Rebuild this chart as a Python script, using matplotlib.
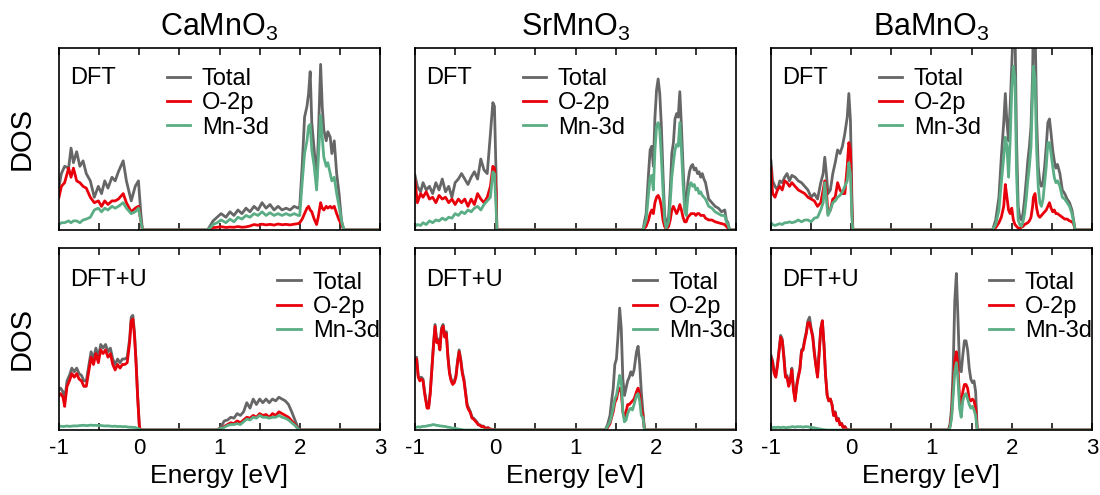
import numpy as np
import matplotlib
matplotlib.use("Agg")
from matplotlib import pyplot as plt
from matplotlib.ticker import MultipleLocator

plt.rcParams['font.family'] = ['Liberation Sans', 'DejaVu Sans']
plt.rcParams['axes.unicode_minus'] = False
plt.rcParams['mathtext.fontset'] = 'custom'
plt.rcParams['mathtext.rm'] = 'Liberation Sans'

compounds = ["CaMnO$_3$", "SrMnO$_3$", "BaMnO$_3$"]
methods = ["DFT", "DFT+U"]
series_names = ["Total", "O-2p", "Mn-3d"]
xticks = [-1, 0, 1, 2, 3]

# DOS values in arbitrary units (0-100 = panel height)
# ---- CaMnO3, DFT
ca_dft_e = [-1.00, -0.97, -0.93, -0.88, -0.85, -0.82, -0.78, -0.74, -0.70, -0.66, -0.61, -0.56, -0.51,
            -0.47, -0.43, -0.39, -0.34, -0.30, -0.26, -0.20, -0.16, -0.10, -0.05, -0.01, 0.02, 0.04,
            0.85, 0.88, 0.92, 0.97, 1.02, 1.08, 1.13, 1.18, 1.23, 1.28, 1.33, 1.38, 1.43, 1.48, 1.53,
            1.58, 1.63, 1.68, 1.73, 1.78, 1.83, 1.88, 1.93, 1.98,
            2.00, 2.03, 2.06, 2.09, 2.11, 2.13, 2.15, 2.18, 2.21, 2.23, 2.26, 2.28, 2.30, 2.33, 2.35,
            2.38, 2.40, 2.43, 2.46, 2.49, 2.52, 2.55, 3.00]
ca_dft_tot = [24, 31, 35, 34, 45, 37, 43, 35, 38, 31, 27, 18, 24, 20, 27, 23, 29, 27, 32, 38, 27, 16, 24, 27, 9, 0,
              0, 2, 5, 7, 9, 7, 10, 8, 11, 9, 12, 10, 13, 11, 15, 12, 14, 11, 13, 11, 12, 11, 13, 12,
              13, 35, 62, 68, 75, 87, 59, 44, 27, 49, 91, 68, 55, 49, 54, 51, 42, 49, 31, 20, 5, 0, 0]
ca_dft_o = [18, 24, 26, 34, 29, 34, 27, 26, 24, 23, 18, 15, 16, 13, 16, 14, 16, 16, 17, 20, 15, 10, 12, 13, 5, 0,
            0, 0.5, 1.3, 1.5, 1.8, 1.4, 1.6, 1.5, 1.9, 1.5, 1.7, 2.2, 3.0, 2.6, 3.2, 2.8, 3.1, 2.7, 3.3, 2.9, 3.1, 2.8, 3.2, 3.5,
            4, 6, 9, 12, 13, 11, 10, 6, 3, 7, 15, 12, 11, 13, 12, 13, 12, 13, 9, 5.5, 3, 0, 0]
ca_dft_mn = [3, 4, 4, 5, 4, 5, 5, 4, 5.5, 6, 7, 11, 12, 10, 12, 11, 13, 12, 13, 15, 12, 9, 10, 12, 5, 0,
             0, 1, 3, 4, 5.5, 4, 6, 4.5, 7, 6, 8, 7, 9, 8, 10, 8, 9.5, 8, 9, 8, 9, 8, 9, 8,
             8, 26, 42, 49, 57, 58, 44, 35, 22, 38, 63, 51, 40, 35, 37, 31, 27, 29, 20, 13, 5, 0, 0]

# ---- SrMnO3, DFT
sr_dft_e = [-1.00, -0.97, -0.93, -0.90, -0.86, -0.82, -0.78, -0.74, -0.70, -0.66, -0.62, -0.58, -0.54,
            -0.50, -0.46, -0.42, -0.38, -0.34, -0.30, -0.26, -0.22, -0.18, -0.14, -0.10, -0.06, -0.03,
            -0.01, 0.01, 0.02,
            1.84, 1.88, 1.91, 1.93, 1.95, 1.97, 1.99, 2.01, 2.03, 2.05, 2.07, 2.09, 2.11, 2.13, 2.16,
            2.18, 2.20, 2.22, 2.24, 2.26, 2.28, 2.30, 2.32, 2.34, 2.36, 2.38, 2.40, 2.42, 2.44, 2.46,
            2.48, 2.50, 2.52, 2.54, 2.56, 2.58, 2.60, 2.62, 2.66, 2.70, 2.74, 2.78, 2.82, 2.86, 2.88,
            2.90, 2.92, 3.00]
sr_dft_tot = [30, 24, 21, 26, 22, 24, 20, 26, 22, 28, 21, 24, 18, 26, 28, 31, 28, 25, 29, 32, 28, 39, 33, 31,
              53, 70, 68, 31, 0,
              0, 9, 31, 44, 46, 35, 62, 77, 83, 75, 57, 31, 9, 2, 7, 22, 42, 48, 61, 64,
              62, 76, 57, 35, 17, 13, 26, 32, 35, 36, 33, 34, 31, 32, 29, 31, 28, 26, 17, 15,
              13, 12, 10, 11, 5.5, 4, 0, 0]
sr_dft_o = [27, 15, 20, 18, 21, 17, 18, 15, 19, 17, 18, 15, 17, 14, 17, 15, 17, 13, 17, 14, 20, 17, 15, 18,
            24, 35, 34, 22, 0,
            0, 2, 5.5, 9, 11, 9, 15, 18, 19, 17, 13, 5.5, 2, 0.5, 2, 5.5, 11, 13, 11, 9,
            11, 14, 11, 7, 4.5, 4.5, 7, 8, 9, 9, 9, 8, 9, 9, 8, 8, 8, 6.5, 5.5, 5.5,
            4.5, 4, 3.5, 3, 2, 1, 0, 0]
sr_dft_mn = [2, 3, 2.5, 4, 3, 5, 4, 5.5, 5, 6.5, 5.5, 7, 6.5, 9, 8, 10, 9, 11, 10, 12, 13, 11, 14, 16,
             18, 32, 31, 13, 0,
             0, 5.5, 20, 29, 30, 22, 44, 57, 59, 55, 40, 22, 5.5, 1, 4.5, 15, 29, 37, 44, 47,
             46, 59, 44, 26, 11, 8, 18, 24, 26, 24, 25, 22, 23, 20, 21, 19, 18, 17, 13, 12,
             10, 9, 8, 8, 4.5, 3, 0, 0]

# ---- BaMnO3, DFT
ba_dft_e = [-1.00, -0.98, -0.95, -0.92, -0.89, -0.86, -0.83, -0.80, -0.77, -0.74, -0.70, -0.66, -0.62,
            -0.58, -0.54, -0.50, -0.46, -0.42, -0.38, -0.35, -0.33, -0.31, -0.29, -0.26, -0.23, -0.20,
            -0.17, -0.14, -0.11, -0.08, -0.05, -0.03, -0.01, 0.01, 0.02,
            1.76, 1.80, 1.84, 1.87, 1.90, 1.92, 1.94, 1.96, 1.98, 2.00, 2.02, 2.04, 2.06, 2.08, 2.10,
            2.12, 2.14, 2.16, 2.18, 2.20, 2.22, 2.24, 2.26, 2.27, 2.29, 2.31, 2.33, 2.35, 2.37, 2.39,
            2.41, 2.43, 2.45, 2.47, 2.49, 2.51, 2.53, 2.55, 2.57, 2.60, 2.63, 2.66, 2.69, 2.72, 2.75,
            2.77, 2.79, 3.00]
ba_dft_tot = [38, 27, 24, 22, 27, 26, 29, 31, 27, 30, 29, 27, 26, 24, 22, 18, 20, 17, 26, 31, 40, 31, 20, 22,
              31, 37, 44, 42, 46, 53, 62, 75, 60, 13, 0,
              0, 5.5, 18, 40, 59, 75, 59, 49, 68, 90, 115, 112, 49, 13, 7, 5.5, 9, 17, 27, 38,
              46, 57, 86, 118, 115, 61, 35, 26, 24, 27, 35, 46, 59, 61, 53, 44, 38, 34, 36, 31,
              22, 20, 17, 15, 11, 5.5, 0, 0]
ba_dft_o = [34, 20, 18, 22, 24, 22, 27, 26, 24, 26, 24, 22, 21, 20, 18, 17, 16, 13, 15, 22, 27, 22, 9, 11,
            17, 18, 26, 22, 20, 20, 35, 48, 44, 9, 0,
            0, 1.3, 4, 7, 13, 25, 18, 11, 9, 12, 5.5, 3, 2, 1, 1, 1.5, 2, 3, 3.5, 4,
            5, 7, 13, 18, 20, 12, 8, 7, 8, 9, 10, 11, 13, 15, 12, 10, 11, 9, 9, 8,
            7, 6, 6, 5, 4.5, 3.5, 0, 0]
ba_dft_mn = [4, 3, 2.5, 3, 3.5, 3, 4, 4, 4.5, 4, 4.5, 5.5, 4.5, 5.5, 5.5, 4.5, 6.5, 7, 11, 15, 26, 17, 8, 11,
             15, 16, 18, 19, 21, 24, 27, 37, 31, 5.5, 0,
             0, 3, 11, 26, 40, 51, 46, 29, 49, 77, 90, 83, 31, 5.5, 3, 2, 4.5, 9, 17, 27,
             35, 46, 77, 90, 83, 44, 24, 15, 13, 17, 26, 35, 48, 48, 42, 35, 29, 26, 27, 24,
             18, 17, 15, 13, 9, 4.5, 0, 0]

# ---- CaMnO3, DFT+U
ca_u_e = [-1.00, -0.98, -0.95, -0.93, -0.90, -0.87, -0.84, -0.81, -0.78, -0.75, -0.72, -0.69, -0.66,
          -0.63, -0.60, -0.57, -0.54, -0.51, -0.48, -0.45, -0.42, -0.39, -0.36, -0.33, -0.30, -0.27,
          -0.24, -0.21, -0.18, -0.15, -0.12, -0.10, -0.08, -0.06, -0.04, -0.02, 0.00, 0.01,
          0.98, 1.02, 1.06, 1.10, 1.14, 1.18, 1.22, 1.26, 1.30, 1.34, 1.38, 1.42, 1.46, 1.50, 1.54,
          1.58, 1.62, 1.66, 1.70, 1.74, 1.78, 1.82, 1.86, 1.90, 1.94, 1.98, 2.00, 3.00]
ca_u_tot = [22, 23, 21, 16, 27, 30, 34, 32, 34, 31, 30, 27, 27, 35, 43, 39, 45, 40, 47, 45,
            47, 43, 45, 39, 36, 39, 37, 39, 39, 40, 50, 62, 63, 54, 38, 19, 3, 0,
            0, 2, 5, 5.5, 7, 6.5, 9, 8, 10, 15, 12, 17, 14, 17, 15, 17, 15, 17, 16, 18,
            17, 16, 14, 10, 5.5, 1, 0, 0]
ca_u_o = [19, 20, 18, 13, 24, 27, 31, 29, 31, 28, 27, 24, 24, 32, 40, 36, 42, 37, 44, 42,
          44, 40, 42, 36, 33, 36, 34, 36, 36, 37, 48, 60, 61, 52, 37, 18, 3, 0,
          0, 1, 2, 3, 4, 3.5, 5, 4, 5.5, 7, 6.5, 8, 7, 9, 8, 8.5, 7, 9, 8, 10,
          9, 8, 7, 5, 3, 0.5, 0, 0]
ca_u_mn = [2, 2.1, 1.9, 2, 2.2, 2, 2.1, 2.3, 2.2, 2.4, 2.5, 2.6, 2.4, 2.5, 2.7, 2.5, 2.6, 2.4, 2.5, 2.3,
           2.2, 2.3, 2.1, 2, 2.1, 1.9, 2, 1.8, 1.9, 1.7, 1.5, 1.6, 1.4, 1.5, 1.2, 1, 0.5, 0,
           0, 1, 1.5, 2.5, 3, 3, 3.5, 3, 4.5, 6, 5.5, 7, 6.5, 8, 7, 7, 6.5, 7, 7, 8,
           7, 6.5, 5.5, 4, 2.5, 0.5, 0, 0]

# ---- SrMnO3, DFT+U
sr_u_e = [-1.00, -0.98, -0.96, -0.94, -0.92, -0.90, -0.88, -0.85, -0.83, -0.81,
          -0.79, -0.77, -0.75, -0.73, -0.71, -0.69, -0.67, -0.65, -0.63, -0.61,
          -0.59, -0.57, -0.55, -0.53, -0.51, -0.49, -0.47, -0.45, -0.43, -0.41,
          -0.39, -0.37, -0.35, -0.33, -0.31, -0.29, -0.27, -0.25, -0.23, -0.21,
          -0.19, -0.17, -0.15, -0.13, -0.11, -0.09, -0.07, -0.04, -0.01,
          1.37, 1.40, 1.43, 1.45, 1.47, 1.49, 1.51, 1.53, 1.55, 1.57, 1.59, 1.61, 1.63, 1.65,
          1.67, 1.69, 1.71, 1.73, 1.76, 1.78, 1.80, 1.82, 1.84, 1.86, 3.00]
sr_u_tot = [39, 40, 30, 28, 29, 28, 21, 13, 13, 21, 34, 47, 58, 49, 50, 45, 56, 58, 52, 54,
            41, 32, 28, 26, 27, 30, 38, 44, 39, 32, 28, 21, 14, 12, 10, 7, 6.5, 5.5, 4.5, 3,
            2.8, 2, 2.2, 1.3, 1, 1.3, 0.6, 0.4, 0,
            0, 3, 8, 16, 23, 36, 39, 52, 67, 56, 28, 19, 23, 27, 29, 32, 30, 33, 43, 46,
            36, 21, 10, 0, 0]
sr_u_o = [38, 39, 29, 27, 28, 27, 20, 12, 12, 20, 33, 46, 57, 48, 49, 44, 55, 57, 51, 53,
          40, 31, 27, 25, 26, 29, 37, 43, 38, 31, 27, 20, 13, 11, 9.5, 6.5, 6, 5, 4, 2.8,
          2.6, 1.8, 2, 1.2, 0.9, 1.2, 0.5, 0.3, 0,
          0, 1.3, 3.5, 7, 10, 15, 17, 21, 23, 21, 10, 6.5, 10, 14, 14, 15, 16, 17, 21, 23,
          19, 12, 8, 0, 0]
sr_u_mn = [1.5, 1.5, 1.8, 1.5, 1.8, 2, 2, 2.2, 2.5, 2.5, 2.8, 3, 2.8, 2.5, 2.5, 2.2, 2.2, 2, 2, 1.8,
           1.5, 1.5, 1.2, 1, 1, 0.8, 0.6, 0.5, 0.3, 0.2, 0, 0, 0, 0, 0, 0, 0, 0, 0, 0,
           0, 0, 0, 0, 0, 0, 0, 0, 0,
           0, 2, 4.5, 8, 12, 17, 19, 24, 30, 27, 10, 4.5, 5.5, 9, 11, 12, 11, 14, 19, 20,
           16, 8, 7, 0, 0]

# ---- BaMnO3, DFT+U
ba_u_e = [-1.00, -0.98, -0.96, -0.94, -0.92, -0.90, -0.88, -0.86, -0.84, -0.82,
          -0.80, -0.78, -0.76, -0.74, -0.72, -0.70, -0.68, -0.66, -0.64, -0.62,
          -0.60, -0.58, -0.56, -0.54, -0.52, -0.50, -0.48, -0.46, -0.44, -0.42,
          -0.40, -0.38, -0.36, -0.34, -0.32, -0.30, -0.28, -0.26, -0.24, -0.22,
          -0.20, -0.18, -0.16, -0.14, -0.12, -0.10, -0.08, -0.06, -0.03,
          1.21, 1.23, 1.25, 1.27, 1.29, 1.31, 1.33, 1.35, 1.37, 1.39, 1.41, 1.43, 1.45, 1.47,
          1.49, 1.51, 1.53, 1.55, 1.57, 3.00]
ba_u_tot = [41, 38, 32, 30, 36, 44, 52, 50, 41, 30, 30, 25, 28, 34, 23, 17, 25, 30, 34, 44,
            45, 50, 54, 60, 62, 56, 52, 43, 36, 30, 43, 56, 60, 47, 30, 19, 16, 17, 14, 8,
            10, 5.5, 6.5, 3, 3.7, 1.3, 2, 0.6, 0,
            0, 3, 12, 34, 71, 86, 61, 34, 32, 41, 49, 49, 44, 34, 28, 26, 27, 21, 0, 0]
ba_u_o = [40, 37, 31, 29, 35, 43, 51, 49, 40, 29, 29, 24, 27, 33, 22, 16, 24, 29, 33, 43,
          44, 49, 53, 59, 59, 55, 51, 42, 35, 29, 42, 55, 60, 47, 30, 19, 16, 17, 14, 8,
          9.5, 5, 6, 2.8, 3.5, 1.2, 1.8, 0.5, 0,
          0, 2, 8, 23, 38, 43, 34, 17, 14, 21, 25, 25, 23, 17, 16, 17, 16, 12, 0, 0]
ba_u_mn = [1.3, 1.3, 1.5, 1.3, 1.5, 1.5, 1.3, 1.5, 1.5, 1.3, 1.3, 1.5, 1.5, 1.8, 1.8, 1.5, 1.8, 1.8, 1.8, 1.8,
           1.5, 1.8, 1.8, 1.8, 1.5, 1.5, 1.3, 1.2, 1, 0.8, 0.6, 0.5, 0.3, 0.2, 0.1, 0, 0, 0, 0, 0,
           0, 0, 0, 0, 0, 0, 0, 0, 0,
           0, 1.3, 6.5, 19, 32, 37, 28, 12, 7, 16, 19, 20, 17, 14, 12, 13, 11, 8, 0, 0]

panels = [
    [(ca_dft_e, ca_dft_tot, ca_dft_o, ca_dft_mn),
     (sr_dft_e, sr_dft_tot, sr_dft_o, sr_dft_mn),
     (ba_dft_e, ba_dft_tot, ba_dft_o, ba_dft_mn)],
    [(ca_u_e, ca_u_tot, ca_u_o, ca_u_mn),
     (sr_u_e, sr_u_tot, sr_u_o, sr_u_mn),
     (ba_u_e, ba_u_tot, ba_u_o, ba_u_mn)],
]

colors = ['#666666', '#e8000b', '#5aad84']

fig = plt.figure(figsize=(11, 4.95), dpi=100)

left0, width, step = 59 / 1100, 321 / 1100, 356 / 1100
height = 182 / 495
bottoms = [1 - 230 / 495, 1 - 430 / 495]

for r in range(2):
    for c in range(3):
        ax = fig.add_axes([left0 + c * step, bottoms[r], width, height])
        e, tot, o2p, mn = panels[r][c]
        lines = []
        for vals, col, name in zip([tot, o2p, mn], colors, series_names):
            ln, = ax.plot(e, vals, color=col, lw=2.0, label=name, solid_joinstyle='round')
            lines.append(ln)
        ax.set_xlim(-1, 3)
        ax.set_ylim(0, 100)
        ax.set_yticks([])
        ax.xaxis.set_major_locator(MultipleLocator(1))
        ax.xaxis.set_minor_locator(MultipleLocator(0.5))
        ax.tick_params(axis='x', which='both', direction='in', top=True, length=5, width=1.1,
                       labelsize=16, pad=6)
        for sp in ax.spines.values():
            sp.set_linewidth(1.2)
        if r == 0:
            ax.set_xticklabels([])
            ax.set_title(compounds[c], fontsize=22, pad=9)
            leg_x, leg_y = 0.335, 0.89
        else:
            ax.set_xticks(xticks)
            ax.set_xticklabels([str(t) for t in xticks])
            ax.set_xlabel("Energy [eV]", fontsize=19, labelpad=3)
            leg_x, leg_y = 0.68, 0.87
        ax.text(0.035, 0.835 if r == 0 else 0.825, methods[r], transform=ax.transAxes,
                fontsize=17, va='center', ha='left')
        ax.legend(handles=lines, loc='upper left', bbox_to_anchor=(leg_x, leg_y), frameon=False,
                  fontsize=17, handlelength=1.0, handletextpad=0.5, labelspacing=0.1,
                  borderpad=0, borderaxespad=0)
        if c == 0:
            ax.set_ylabel("DOS", fontsize=21, labelpad=17)

fig.savefig("out.png", dpi=100)
